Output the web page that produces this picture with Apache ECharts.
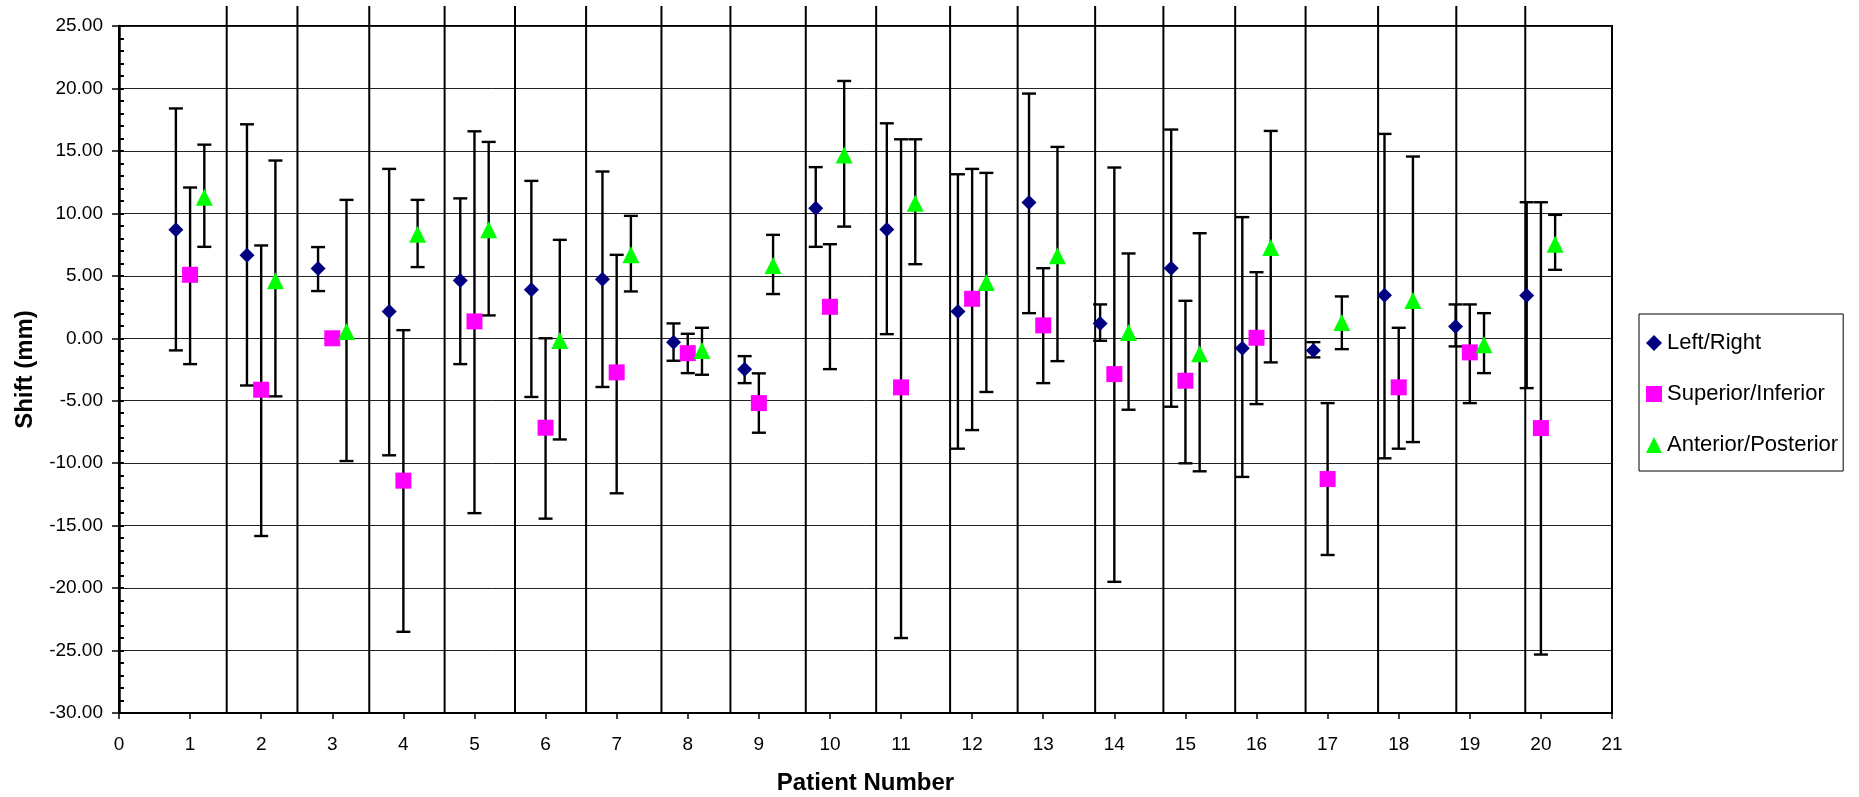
<!DOCTYPE html>
<html>
<head>
<meta charset="utf-8">
<title>Shift by patient</title>
<script src="https://cdn.jsdelivr.net/npm/echarts@6/dist/echarts.min.js"></script>
<style>
  html, body { margin: 0; padding: 0; background: #fff; }
  #main { width: 1859px; height: 797px; }
</style>
</head>
<body>
<div id="main"></div>
<script>
// patient numbers on the x axis
const patients = [1, 2, 3, 4, 5, 6, 7, 8, 9, 10, 11, 12, 13, 14, 15, 16, 17, 18, 19, 20];

// Left/Right shift (mm) and error bar ends
const lrMean = [8.68, 6.65, 5.59, 2.15, 4.62, 3.88, 4.73, -0.31, -2.47, 10.41, 8.71, 2.15, 10.87, 1.19, 5.61, -0.79, -0.97, 3.45, 0.95, 3.43];
const lrHigh = [18.4, 17.13, 7.3, 13.56, 11.2, 12.6, 13.35, 1.19, -1.43, 13.7, 17.21, 13.13, 19.59, 2.71, 16.71, 9.7, -0.31, 16.36, 2.71, 10.89];
const lrLow = [-0.97, -3.78, 3.78, -9.37, -2.07, -4.7, -3.9, -1.8, -3.59, 7.32, 0.33, -8.84, 2.01, -0.2, -5.48, -11.1, -1.53, -9.61, -0.65, -3.99];

// Superior/Inferior
const siMean = [5.08, -4.12, 0.0, -11.4, 1.35, -7.16, -2.73, -1.19, -5.19, 2.52, -3.93, 3.16, 1.03, -2.87, -3.4, 0.04, -11.27, -3.93, -1.13, -7.19];
const siHigh = [12.07, 7.43, 0.0, 0.65, 16.57, 0.0, 6.68, 0.36, -2.81, 7.53, 15.93, 13.56, 5.61, 13.67, 3.0, 5.29, -5.19, 0.84, 2.71, 10.89];
const siLow = [-2.07, -15.83, 0.0, -23.5, -14.0, -14.44, -12.41, -2.79, -7.56, -2.47, -24.0, -7.35, -3.59, -19.5, -10.01, -5.27, -17.35, -8.84, -5.19, -25.32];

// Anterior/Posterior
const apMean = [11.3, 4.6, 0.55, 8.33, 8.68, -0.17, 6.68, -0.97, 5.83, 14.68, 10.81, 4.47, 6.6, 0.47, -1.24, 7.27, 1.27, 3.03, -0.52, 7.53];
const apHigh = [15.5, 14.23, 11.08, 11.08, 15.72, 7.88, 9.8, 0.84, 8.28, 20.6, 15.93, 13.24, 15.32, 6.79, 8.41, 16.6, 3.35, 14.55, 2.01, 9.88];
const apLow = [7.32, -4.65, -9.83, 5.7, 1.83, -8.1, 3.75, -2.92, 3.54, 8.94, 5.93, -4.3, -1.83, -5.72, -10.65, -1.93, -0.87, -8.31, -2.79, 5.48];

// vertical separator lines between patients (x values) and their top end
const sepX = [1.515, 2.51, 3.52, 4.58, 5.57, 6.57, 7.63, 8.6, 9.66, 10.65, 11.69, 12.64, 13.73, 14.69, 15.7, 16.69, 17.71, 18.81, 19.78];
const sepTop = 26.6;

const seriesNames = ['Left/Right', 'Superior/Inferior', 'Anterior/Posterior'];

const FONT = '"Liberation Sans", Arial, sans-serif';

let myChart = echarts.init(document.getElementById('main'));

// each series sits a little left / centre / right of the patient number
const groups = [
    {name: seriesNames[0], mean: lrMean, low: lrLow, high: lrHigh, dx: -0.2, symbol: 'diamond', size: 15, color: '#000080'},
    {name: seriesNames[1], mean: siMean, low: siLow, high: siHigh, dx: 0, symbol: 'rect', size: 16, color: '#FF00FF'},
    {name: seriesNames[2], mean: apMean, low: apLow, high: apHigh, dx: 0.2, symbol: 'triangle', size: 17, color: '#00FF00'}
];

let errData = [];
groups.forEach(function(g){
    patients.forEach(function(p, i){
        errData.push([p + g.dx, g.low[i], g.high[i]]);
    });
});

function renderErr(params, api){
    let x = api.value(0);
    let lo = api.coord([x, api.value(1)]);
    let hi = api.coord([x, api.value(2)]);
    let half = 7;
    let style = {stroke: '#000', lineWidth: 2.4};
    return {
        type: 'group',
        children: [
            {type: 'line', shape: {x1: hi[0], y1: hi[1], x2: lo[0], y2: lo[1]}, style: style},
            {type: 'line', shape: {x1: hi[0] - half, y1: hi[1], x2: hi[0] + half, y2: hi[1]}, style: style},
            {type: 'line', shape: {x1: lo[0] - half, y1: lo[1], x2: lo[0] + half, y2: lo[1]}, style: style}
        ]
    };
}

function renderSep(params, api){
    let x = api.value(0);
    let top = api.coord([x, sepTop]);
    let bot = api.coord([x, -30]);
    return {
        type: 'line',
        shape: {x1: top[0], y1: top[1], x2: bot[0], y2: bot[1]},
        style: {stroke: '#000', lineWidth: 2}
    };
}

let series = [
    {
        type: 'custom',
        name: 'sep',
        renderItem: renderSep,
        clip: false,
        silent: true,
        z: 1,
        encode: {x: 0, y: 1},
        data: sepX.map(function(x){ return [x, sepTop]; })
    },
    {
        type: 'custom',
        name: 'err',
        renderItem: renderErr,
        silent: true,
        z: 2,
        encode: {x: 0, y: [1, 2]},
        data: errData
    }
];

groups.forEach(function(g){
    series.push({
        type: 'scatter',
        name: g.name,
        symbol: g.symbol,
        symbolSize: g.size,
        itemStyle: {color: g.color, opacity: 1},
        z: 3,
        data: patients.map(function(p, i){ return [p + g.dx, g.mean[i]]; })
    });
});

let option = {
    backgroundColor: '#fff',
    animation: false,
    grid: {
        left: 119, right: 247, top: 26, bottom: 84,
        outerBoundsMode: 'none',
        containLabel: false,
        show: true, borderColor: '#000', borderWidth: 2
    },
    legend: {
        orient: 'vertical',
        left: 1639, top: 314,
        data: groups.map(function(g){ return {name: g.name, icon: g.symbol}; }),
        itemWidth: 16, itemHeight: 16,
        itemGap: 29,
        padding: [18, 5, 15, 7],
        borderColor: '#000', borderWidth: 1,
        textStyle: {fontFamily: FONT, fontSize: 22, color: '#000'}
    },
    xAxis: {
        type: 'value',
        min: 0, max: 21, interval: 1,
        name: 'Patient Number',
        nameLocation: 'middle',
        nameGap: 58,
        nameTextStyle: {fontFamily: FONT, fontSize: 24, fontWeight: 'bold', color: '#000'},
        axisLine: {show: true, onZero: false, lineStyle: {color: '#000', width: 2}},
        axisTick: {show: true, inside: false, length: 6, lineStyle: {color: '#000', width: 1.5}},
        axisLabel: {fontFamily: FONT, fontSize: 19, color: '#000', margin: 22},
        splitLine: {show: false}
    },
    yAxis: [
        {
            type: 'value',
            min: -30, max: 25, interval: 5,
            position: 'left',
            name: 'Shift (mm)',
            nameLocation: 'middle',
            nameGap: 82,
            nameTextStyle: {fontFamily: FONT, fontSize: 24, fontWeight: 'bold', color: '#000'},
            axisLine: {show: true, lineStyle: {color: '#000', width: 2.5}},
            axisTick: {show: true, inside: false, length: 7, lineStyle: {color: '#000', width: 1.5}},
            axisLabel: {
                fontFamily: FONT, fontSize: 19, color: '#000', margin: 16,
                formatter: function(v){ return v.toFixed(2); }
            },
            splitLine: {show: true, lineStyle: {color: '#222', width: 1}}
        },
        {
            // inside ticks at every unit
            type: 'value',
            min: -30, max: 25, interval: 1,
            position: 'left',
            axisLine: {show: false},
            axisTick: {show: true, inside: true, length: 5, lineStyle: {color: '#000', width: 2}},
            axisLabel: {show: false},
            splitLine: {show: false}
        }
    ],
    series: series
};

myChart.setOption(option);
</script>
</body>
</html>
